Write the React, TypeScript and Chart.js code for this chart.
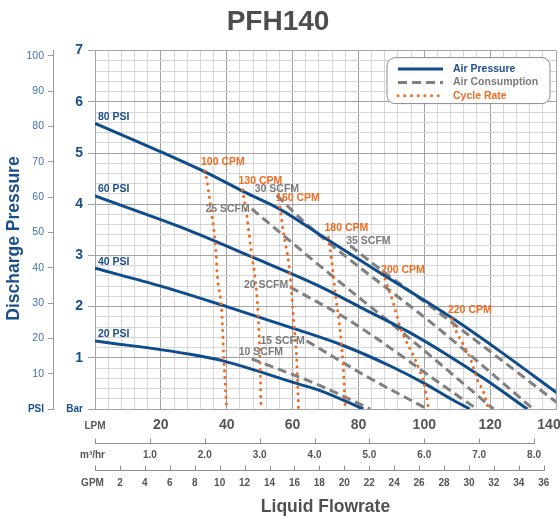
import React, { useEffect, useRef } from "react";
import { Chart, registerables } from "chart.js";

Chart.register(...registerables);

const FONT = '"Liberation Sans", Arial, Helvetica, sans-serif';

// ---------- tick labels ----------
const lpmTicks = [20, 40, 60, 80, 100, 120, 140];
const m3hrTicks = [1, 2, 3, 4, 5, 6, 7, 8];
const gpmTicks = [2, 4, 6, 8, 10, 12, 14, 16, 18, 20, 22, 24, 26, 28, 30, 32, 34, 36];
const barTicks = [1, 2, 3, 4, 5, 6, 7];
const psiTicks = [10, 20, 30, 40, 50, 60, 70, 80, 90, 100];
const legendLabels = ["Air Pressure", "Air Consumption", "Cycle Rate"];

// ---------- unit ranges ----------
const LPM_MAX = 140;
const BAR_MAX = 7;
const LPM_PER_M3HR = 1000 / 60;
const LPM_PER_GPM = 3.78541;
const PSI_PER_BAR = 14.5038;

// ---------- air pressure curves (flow LPM, pressure bar) ----------
const psi80Lpm = [0, 20.1, 33.4, 45, 56.5, 68.4, 87.5, 107.9, 122.5, 140.4];
const psi80Bar = [5.58, 5.02, 4.63, 4.25, 3.89, 3.4, 2.62, 1.8, 1.15, 0.31];
const psi60Lpm = [0, 28.9, 48, 68.4, 80.5, 94.8, 106.4, 118, 131.3];
const psi60Bar = [4.16, 3.48, 2.96, 2.39, 1.99, 1.52, 1.08, 0.6, 0.0];
const psi40Lpm = [0, 20, 40, 60, 75, 90, 100, 108, 113.8];
const psi40Bar = [2.75, 2.4, 2.0, 1.58, 1.25, 0.83, 0.5, 0.2, 0.0];
const psi20Lpm = [0, 28.9, 38.9, 61.7, 68.4, 81.5];
const psi20Bar = [1.33, 1.07, 0.94, 0.49, 0.36, 0.0];

// ---------- air consumption (SCFM) ----------
const scfm10Lpm = [47.6, 68.4, 83.6];
const scfm10Bar = [0.98, 0.455, 0.0];
const scfm15Lpm = [64.3, 82.1, 100.9];
const scfm15Bar = [1.33, 0.65, 0.0];
const scfm20Lpm = [59.3, 77.5, 107.9, 116];
const scfm20Bar = [2.38, 1.72, 0.36, 0.0];
const scfm25Lpm = [47.6, 68.4, 95.7, 121];
const scfm25Bar = [3.91, 2.79, 1.37, 0.0];
const scfm30Lpm = [55.2, 64.3, 104.9, 133.1];
const scfm30Bar = [4.17, 3.61, 1.54, 0.0];
const scfm35Lpm = [77.5, 84.6, 104.9, 140.4];
const scfm35Bar = [3.19, 2.83, 1.86, 0.12];

// ---------- cycle rate (CPM) ----------
const cpm100Lpm = [33.4, 33.9, 35.5, 36.5, 37.2, 38.5, 39.1, 40];
const cpm100Bar = [4.65, 4.49, 3.78, 3.26, 2.57, 1.89, 0.98, 0.0];
const cpm130Lpm = [44.8, 46.1, 47.6, 48.6, 49.6, 50.2, 50.4];
const cpm130Bar = [4.28, 3.78, 3.0, 2.57, 1.76, 0.72, 0.0];
const cpm160Lpm = [56.2, 57.2, 58.8, 59.3, 60.3, 61.3, 61.8];
const cpm160Bar = [3.94, 3.45, 2.87, 2.57, 1.76, 0.91, 0.0];
const cpm180Lpm = [70.9, 71.8, 73.2, 74.3, 75.3, 76];
const cpm180Bar = [3.35, 2.93, 2.15, 1.6, 0.9, 0.0];
const cpm200Lpm = [88.1, 89.1, 90.2, 91.7, 92.7, 94.2, 96.7, 98.8, 100.3, 101.3];
const cpm200Bar = [2.54, 2.34, 2.15, 1.82, 1.59, 1.37, 1.04, 0.72, 0.39, 0.0];
const cpm220Lpm = [108.4, 109.4, 111.5, 114, 116, 118, 119.5];
const cpm220Bar = [1.76, 1.56, 1.3, 0.98, 0.59, 0.33, 0.0];

type Group = "psi" | "scfm" | "cpm";
const series: { name: string; group: Group; lpm: number[]; bar: number[] }[] = [
  { name: "100 CPM", group: "cpm", lpm: cpm100Lpm, bar: cpm100Bar },
  { name: "130 CPM", group: "cpm", lpm: cpm130Lpm, bar: cpm130Bar },
  { name: "160 CPM", group: "cpm", lpm: cpm160Lpm, bar: cpm160Bar },
  { name: "180 CPM", group: "cpm", lpm: cpm180Lpm, bar: cpm180Bar },
  { name: "200 CPM", group: "cpm", lpm: cpm200Lpm, bar: cpm200Bar },
  { name: "220 CPM", group: "cpm", lpm: cpm220Lpm, bar: cpm220Bar },
  { name: "80 PSI", group: "psi", lpm: psi80Lpm, bar: psi80Bar },
  { name: "60 PSI", group: "psi", lpm: psi60Lpm, bar: psi60Bar },
  { name: "40 PSI", group: "psi", lpm: psi40Lpm, bar: psi40Bar },
  { name: "20 PSI", group: "psi", lpm: psi20Lpm, bar: psi20Bar },
  { name: "10 SCFM", group: "scfm", lpm: scfm10Lpm, bar: scfm10Bar },
  { name: "15 SCFM", group: "scfm", lpm: scfm15Lpm, bar: scfm15Bar },
  { name: "20 SCFM", group: "scfm", lpm: scfm20Lpm, bar: scfm20Bar },
  { name: "25 SCFM", group: "scfm", lpm: scfm25Lpm, bar: scfm25Bar },
  { name: "30 SCFM", group: "scfm", lpm: scfm30Lpm, bar: scfm30Bar },
  { name: "35 SCFM", group: "scfm", lpm: scfm35Lpm, bar: scfm35Bar },
];

// ---------- styles ----------
const BLUE = "#0f4c8c";
const GRAY = "#808080";
const ORANGE = "#f26b21";
const TEXT_BLUE = "#1b4f8c";
const AXIS_GRAY = "#555555";
const MAJOR = "#a3a3a3";
const MINOR = "#d6d6d6";

const groupStyle: Record<Group, any> = {
  psi: { color: BLUE, width: 3, dash: [], cap: "butt", order: 1, legend: 0 },
  scfm: { color: GRAY, width: 3, dash: [9, 5], cap: "butt", order: 2, legend: 1 },
  cpm: { color: ORANGE, width: 3, dash: [0.1, 6.6], cap: "round", order: 0, legend: 2 },
};
const legendOrder: Group[] = ["psi", "scfm", "cpm"];

const groupLabel: Record<Group, { color: string; align: CanvasTextAlign; dx: number; dy: number }> = {
  psi: { color: TEXT_BLUE, align: "left", dx: 3, dy: -6.5 },
  cpm: { color: ORANGE, align: "left", dx: -4, dy: -9 },
  scfm: { color: "#7a7a7a", align: "right", dx: -2, dy: 0 },
};
const labelOverride: Record<string, { align: CanvasTextAlign; dx: number; dy: number }> = {
  "10 SCFM": { align: "left", dx: -13, dy: -7 },
  "20 SCFM": { align: "right", dx: -2, dy: -2 },
  "30 SCFM": { align: "left", dx: -22, dy: -6 },
  "35 SCFM": { align: "left", dx: -4, dy: -5 },
};

const isInt = (v: number) => Math.abs(v - Math.round(v)) < 1e-6;
const f = (size: number, weight: any = "bold", lineHeight = 1.2) => ({ family: FONT, size, weight, lineHeight });

const seriesLabelPlugin = {
  id: "seriesLabels",
  afterDatasetsDraw(chart: any) {
    const { ctx, scales } = chart;
    ctx.save();
    ctx.textBaseline = "middle";
    ctx.font = `bold 10.5px ${FONT}`;
    series.forEach((s) => {
      const g = groupLabel[s.group];
      const o = labelOverride[s.name] || g;
      const px = scales.x.getPixelForValue(s.lpm[0]);
      const py = scales.y.getPixelForValue(s.bar[0]);
      ctx.fillStyle = g.color;
      ctx.textAlign = o.align;
      ctx.fillText(s.name, px + o.dx, py + o.dy);
    });
    ctx.restore();
  },
};

const legendPlugin = {
  id: "boxLegend",
  afterDatasetsDraw(chart: any) {
    const { ctx, chartArea } = chart;
    const w = 163;
    const h = 46;
    const x0 = chartArea.right - 6 - w;
    const y0 = chartArea.top + 7;
    const r = 8;
    ctx.save();
    ctx.beginPath();
    ctx.moveTo(x0 + r, y0);
    ctx.arcTo(x0 + w, y0, x0 + w, y0 + h, r);
    ctx.arcTo(x0 + w, y0 + h, x0, y0 + h, r);
    ctx.arcTo(x0, y0 + h, x0, y0, r);
    ctx.arcTo(x0, y0, x0 + w, y0, r);
    ctx.closePath();
    ctx.fillStyle = "#ffffff";
    ctx.fill();
    ctx.strokeStyle = "#8c8c8c";
    ctx.lineWidth = 1;
    ctx.stroke();
    legendOrder.forEach((g, i) => {
      const st = groupStyle[g];
      const y = y0 + 11.5 + i * 13.3;
      ctx.beginPath();
      ctx.setLineDash(st.dash);
      ctx.lineCap = st.cap;
      ctx.strokeStyle = st.color;
      ctx.lineWidth = 3;
      ctx.moveTo(x0 + 11, y);
      ctx.lineTo(x0 + 56, y);
      ctx.stroke();
      ctx.setLineDash([]);
      ctx.fillStyle = g === "psi" ? TEXT_BLUE : g === "scfm" ? "#7a7a7a" : ORANGE;
      ctx.font = `bold 10.5px ${FONT}`;
      ctx.textAlign = "left";
      ctx.textBaseline = "middle";
      ctx.fillText(legendLabels[st.legend], x0 + 66, y);
    });
    ctx.restore();
  },
};

const unitAxesPlugin = {
  id: "unitAxes",
  afterDraw(chart: any) {
    const { ctx } = chart;
    const draw = (id: string, ticks: number[]) => {
      const s = chart.scales[id];
      const y = Math.round(s.top + 11) + 0.5;
      const last = ticks[ticks.length - 1];
      ctx.beginPath();
      ctx.moveTo(Math.round(s.getPixelForValue(0)), y);
      ctx.lineTo(Math.round(s.getPixelForValue(last)) + 1, y);
      [0, ...ticks].forEach((v) => {
        const x = Math.round(s.getPixelForValue(v)) + 0.5;
        ctx.moveTo(x, y - 5);
        ctx.lineTo(x, y);
      });
      ctx.stroke();
    };
    ctx.save();
    ctx.strokeStyle = "#8f8f8f";
    ctx.lineWidth = 1;
    draw("x2", m3hrTicks);
    draw("x3", gpmTicks);
    ctx.restore();
  },
};

export default function App() {
  const ref = useRef<HTMLCanvasElement>(null);

  useEffect(() => {
    const datasets = series.map((s) => {
      const st = groupStyle[s.group];
      return {
        label: s.name,
        data: s.lpm.map((x, i) => ({ x, y: s.bar[i] })),
        xAxisID: "x",
        yAxisID: "y",
        borderColor: st.color,
        borderWidth: st.width,
        borderDash: st.dash,
        borderCapStyle: st.cap,
        pointRadius: 0,
        cubicInterpolationMode: "monotone",
        fill: false,
        order: st.order,
      };
    });

    const chart = new Chart(ref.current as HTMLCanvasElement, {
      type: "line",
      data: { datasets },
      plugins: [legendPlugin, seriesLabelPlugin, unitAxesPlugin],
      options: {
        responsive: false,
        animation: false,
        events: [],
        layout: { padding: { left: 0, right: 4, top: 0, bottom: 0 } },
        plugins: {
          legend: { display: false },
          tooltip: { enabled: false },
          title: {
            display: true,
            text: "PFH140",
            color: "#4d4d4d",
            font: f(28),
            padding: { top: 5, bottom: 12 },
          },
        },
        scales: {
          x: {
            type: "linear",
            position: "bottom",
            weight: 1,
            min: 0,
            max: LPM_MAX,
            afterFit: (s: any) => {
              s.height = 23;
              s.paddingLeft = 0;
              s.paddingRight = 0;
            },
            grid: {
              color: (c: any) => (c.tick && c.tick.value % 20 === 0 ? MAJOR : MINOR),
              drawTicks: false,
            },
            border: { display: true, color: MAJOR },
            ticks: {
              stepSize: 4,
              maxTicksLimit: 1000,
              autoSkip: false,
              maxRotation: 0,
              minRotation: 0,
              padding: 7.5,
              color: AXIS_GRAY,
              font: (c: any) => (c.tick && c.tick.value === 0 ? f(10, "bold", 1.9) : f(14)),
              callback: (v: any) =>
                v === 0 ? "LPM" : lpmTicks.includes(v) ? (v === LPM_MAX ? `${v}\u2003` : String(v)) : "",
            },
          },
          x2: {
            type: "linear",
            position: "bottom",
            weight: 2,
            min: 0,
            max: LPM_MAX / LPM_PER_M3HR,
            afterFit: (s: any) => {
              s.height = 27;
              s.paddingLeft = 0;
              s.paddingRight = 0;
            },
            grid: { display: false, drawTicks: false },
            border: { display: false },
            ticks: {
              stepSize: 1,
              includeBounds: false,
              autoSkip: false,
              maxRotation: 0,
              minRotation: 0,
              padding: 17,
              color: AXIS_GRAY,
              font: f(10),
              callback: (v: any) => (v === 0 ? "m³/hr\u2002" : m3hrTicks.includes(v) ? Number(v).toFixed(1) : ""),
            },
          },
          x3: {
            type: "linear",
            position: "bottom",
            weight: 3,
            min: 0,
            max: LPM_MAX / LPM_PER_GPM,
            afterFit: (s: any) => {
              s.height = 57;
              s.paddingLeft = 0;
              s.paddingRight = 0;
            },
            grid: { display: false, drawTicks: false },
            border: { display: false },
            ticks: {
              stepSize: 2,
              includeBounds: false,
              autoSkip: false,
              maxRotation: 0,
              minRotation: 0,
              padding: 18,
              color: AXIS_GRAY,
              font: f(10),
              callback: (v: any) => (v === 0 ? "GPM\u2002" : gpmTicks.includes(v) ? String(v) : ""),
            },
            title: {
              display: true,
              text: "Liquid Flowrate",
              color: "#505050",
              font: f(17.5, "bold", 1),
              padding: { top: 0, bottom: 0 },
            },
          },
          y: {
            type: "linear",
            position: "left",
            weight: 1,
            min: 0,
            max: BAR_MAX,
            afterFit: (s: any) => {
              s.width = 42;
              s.paddingTop = 0;
              s.paddingBottom = 0;
            },
            grid: {
              color: (c: any) => (c.tick && isInt(c.tick.value) ? MAJOR : MINOR),
              tickColor: (c: any) => (c.tick && isInt(c.tick.value) ? MAJOR : "rgba(0,0,0,0)"),
              tickLength: 7,
              drawTicks: true,
            },
            border: { display: true, color: MAJOR },
            ticks: {
              stepSize: 0.2,
              maxTicksLimit: 1000,
              autoSkip: false,
              padding: 5,
              color: TEXT_BLUE,
              font: (c: any) => (c.tick && c.tick.value === 0 ? f(10) : f(14)),
              callback: (v: any) =>
                v === 0 ? "Bar" : isInt(v) && barTicks.includes(Math.round(v)) ? String(Math.round(v)) : "",
            },
          },
          y2: {
            type: "linear",
            position: "left",
            weight: 2,
            min: 0,
            max: BAR_MAX * PSI_PER_BAR,
            afterFit: (s: any) => {
              s.width = 53;
              s.paddingTop = 0;
              s.paddingBottom = 0;
            },
            grid: { drawOnChartArea: false, drawTicks: true, tickLength: 5, tickColor: "#9a9a9a", color: "#9a9a9a" },
            border: { display: true, color: "#9a9a9a" },
            ticks: {
              stepSize: 10,
              includeBounds: false,
              autoSkip: false,
              padding: 4,
              color: (c: any) => (c.tick && c.tick.value === 0 ? TEXT_BLUE : "#4272ad"),
              font: (c: any) => (c.tick && c.tick.value === 0 ? f(10) : f(10.5, "normal")),
              callback: (v: any) => (v === 0 ? "PSI" : psiTicks.includes(v) ? String(v) : ""),
            },
            title: {
              display: true,
              text: "Discharge Pressure\u2003",
              color: TEXT_BLUE,
              font: f(17.5),
              padding: { top: 3.5, bottom: 0 },
            },
          },
        },
      } as any,
    });
    return () => chart.destroy();
  }, []);

  return (
    <div style={{ position: "fixed", left: 0, top: 0, width: 560, height: 516, background: "#ffffff" }}>
      <canvas ref={ref} width={560} height={516} style={{ width: 560, height: 516, display: "block" }} />
    </div>
  );
}
